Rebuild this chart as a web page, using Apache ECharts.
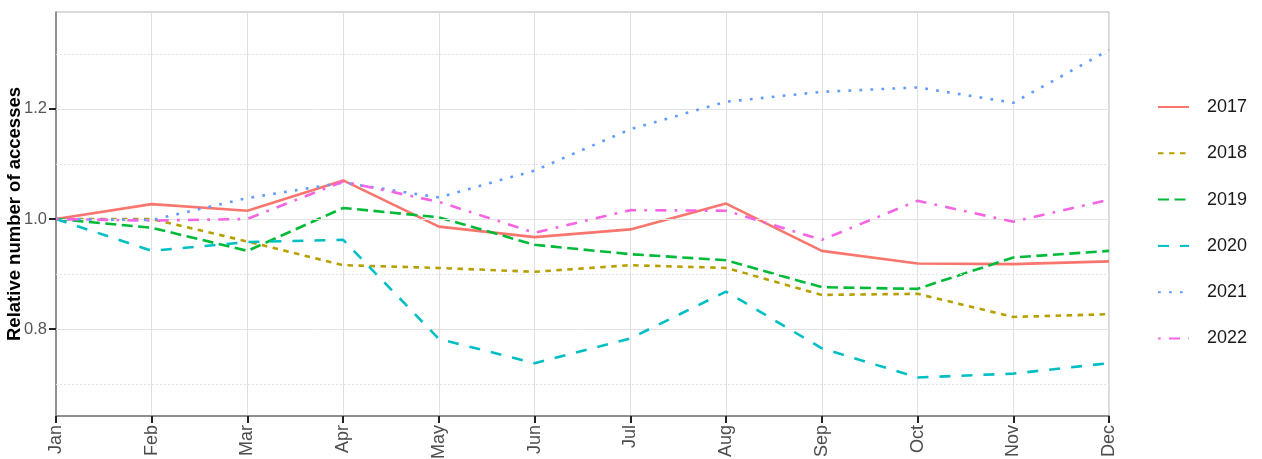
<!DOCTYPE html>
<html><head><meta charset="utf-8">
<script src="https://cdn.jsdelivr.net/npm/echarts@6/dist/echarts.min.js"></script>
<style>html,body{margin:0;padding:0;background:#fff}#c{width:1262px;height:459px}</style>
</head><body><div id="c"></div>
<script>
const months = ["Jan","Feb","Mar","Apr","May","Jun","Jul","Aug","Sep","Oct","Nov","Dec"];
const years = ["2017","2018","2019","2020","2021","2022"];
const v2017 = [1.000,1.027,1.015,1.070,0.986,0.967,0.981,1.028,0.942,0.919,0.918,0.923];
const v2018 = [1.000,1.000,0.959,0.916,0.911,0.904,0.916,0.911,0.862,0.864,0.822,0.827];
const v2019 = [1.000,0.984,0.942,1.020,1.003,0.953,0.936,0.925,0.876,0.873,0.930,0.942];
const v2020 = [1.000,0.942,0.958,0.962,0.782,0.738,0.783,0.868,0.765,0.712,0.719,0.738];
const v2021 = [1.000,0.998,1.038,1.066,1.039,1.088,1.163,1.213,1.231,1.239,1.211,1.307];
const v2022 = [1.000,0.997,1.000,1.068,1.031,0.975,1.016,1.015,0.962,1.033,0.995,1.035];
const yTicks = [0.8,1.0,1.2];
const yMinor = [0.7,0.9,1.1,1.3];

const values = [v2017,v2018,v2019,v2020,v2021,v2022];
const colors = ["#F8766D","#B79F00","#00BA38","#00BFC4","#619CFF","#F564E3"];
const u = 2.75;
const dashes = ["solid",[2*u,2*u],[4*u,2*u],[4*u,4*u],[1*u,3*u],[1*u,3*u,4*u,3*u]];

const chart = echarts.init(document.getElementById('c'));
const series = [{
  type:'line', name:'grid', data: months.map(()=>null), silent:true, z:0,
  symbol:'none',
  markLine:{ silent:true, symbol:'none', label:{show:false}, animation:false,
    data: yTicks.map(v=>({yAxis:v, lineStyle:{color:'#e3e3e3',width:1,type:'solid'}}))
      .concat(yMinor.map(v=>({yAxis:v, lineStyle:{color:'#e3e3e3',width:1,type:[2,2]}})))
  }
}];
years.forEach((y,i)=>{
  series.push({
    type:'line', name:y, data:values[i], symbol:'none', z:2+i,
    lineStyle:{color:colors[i], width:2.6, type:dashes[i], cap:'butt'},
    itemStyle:{color:colors[i]}, animation:false
  });
});
chart.setOption({
  animation:false,
  grid:{left:56,right:153,top:12,bottom:43,show:true,borderColor:'#b3b3b3',borderWidth:1,
    containLabel:false,outerBoundsMode:'none'},
  xAxis:{type:'category',data:months,boundaryGap:false,
    axisLine:{lineStyle:{color:'#777',width:1.5}},
    axisTick:{show:true,length:7,lineStyle:{color:'#222',width:2}},
    axisLabel:{rotate:90,fontSize:18,color:'#4d4d4d',margin:9,fontFamily:'Liberation Sans, Arial'},
    splitLine:{show:true,lineStyle:{color:'#e0e0e0',width:1}}},
  yAxis:{type:'value',min:0.642,max:1.376,
    name:'Relative number of accesses',nameLocation:'middle',nameGap:32,nameMoveOverlap:false,
    nameTextStyle:{fontSize:18.5,fontWeight:'bold',color:'#000',fontFamily:'Liberation Sans, Arial'},
    axisLine:{show:true,lineStyle:{color:'#777',width:1.5}},
    axisTick:{show:true,length:7,customValues:yTicks,lineStyle:{color:'#222',width:2}},
    axisLabel:{customValues:yTicks,fontSize:16.5,color:'#555',margin:9,
      formatter:v=>v.toFixed(1),fontFamily:'Liberation Sans, Arial'},
    splitLine:{show:false}},
  legend:{data:years,orient:'vertical',left:1157,top:98,padding:0,itemWidth:31,itemHeight:14,itemGap:28.3,
    itemStyle:{opacity:0},
    textStyle:{fontSize:18,color:'#1a1a1a',padding:[0,0,0,13],fontFamily:'Liberation Sans, Arial'}},
  series:series
});
</script></body></html>
